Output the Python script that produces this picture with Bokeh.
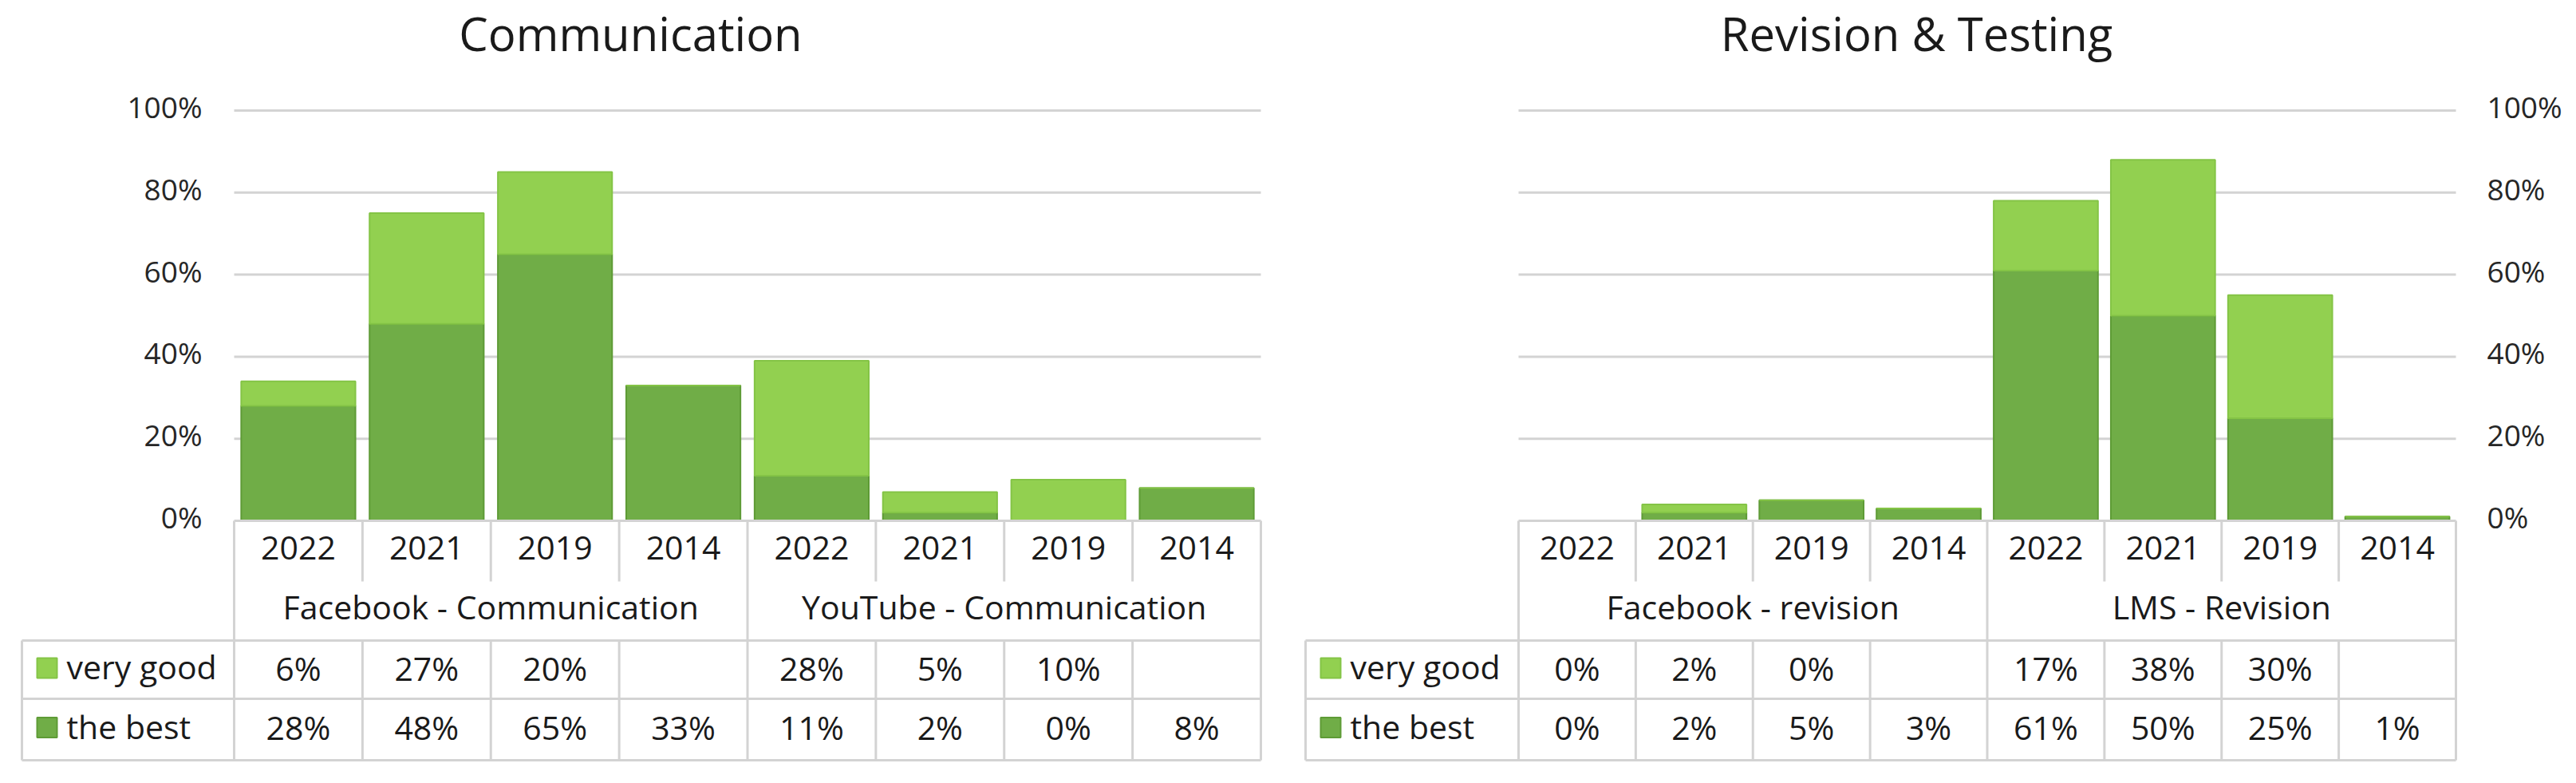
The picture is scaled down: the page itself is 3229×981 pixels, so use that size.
from bokeh.plotting import figure
from bokeh.layouts import row
from bokeh.models import Range1d, ColumnDataSource
from bokeh.core.properties import value
from bokeh.embed import file_html
from bokeh.resources import INLINE

# ---------------- data ----------------
years = ["2022", "2021", "2019", "2014"]
series_names = ["very good", "the best"]

comm_title = "Communication"
comm_groups = ["Facebook - Communication", "YouTube - Communication"]
comm_very_good = [6, 27, 20, None, 28, 5, 10, None]
comm_the_best = [28, 48, 65, 33, 11, 2, 0, 8]

rev_title = "Revision & Testing"
rev_groups = ["Facebook - revision", "LMS - Revision"]
rev_very_good = [0, 2, 0, None, 17, 38, 30, None]
rev_the_best = [0, 2, 5, 3, 61, 50, 25, 1]

y_ticks = [0, 20, 40, 60, 80, 100]

# ---------------- style ----------------
FONT = value("Open Sans")
C_BEST = "#70AD47"
C_BEST_EDGE = "#5E9B36"
C_GOOD = "#92D050"
C_GOOD_EDGE = "#84C446"
C_LINE = "#D3D3D3"
C_TEXT = "#1a1a1a"

# layout in reference pixels
Y0_PX = 652.0      # 0 %
Y100_PX = 138.0    # 100 %
PX_PER_UNIT = (Y0_PX - Y100_PX) / 100.0
FIG_TOP, FIG_BOTTOM = 0, 963
ROW_YEAR_END = 728
ROW_GOOD_TOP = 802
ROW_BEST_TOP = 875
ROW_BOTTOM = 952


def make_chart(title, groups, very_good, the_best, fig_left, fig_right,
               legend_left, col0, col_end, title_cx, axis_side):
    n = len(very_good)
    cw = (col_end - col0) / n

    def X(px):
        return (px - col0) / cw

    def Y(py):
        return (Y0_PX - py) / PX_PER_UNIT

    p = figure(width=int(fig_right - fig_left), height=int(FIG_BOTTOM - FIG_TOP),
               x_range=Range1d(X(fig_left), X(fig_right)),
               y_range=Range1d(Y(FIG_BOTTOM), Y(FIG_TOP)),
               output_backend="svg", toolbar_location=None, min_border=0)
    p.axis.visible = False
    p.grid.visible = False
    p.outline_line_color = None
    p.background_fill_color = "white"
    p.border_fill_color = "white"

    centers = [i + 0.5 for i in range(n)]
    good_bar = [v if v is not None else 0 for v in very_good]
    src = ColumnDataSource(dict(
        x=centers,
        best=the_best,
        top_good=[b + g for b, g in zip(the_best, good_bar)],
    ))

    # gridlines
    grid_vals = [t for t in y_ticks if t > 0]
    p.segment(x0=[0] * len(grid_vals), x1=[n] * len(grid_vals),
              y0=grid_vals, y1=grid_vals, line_color=C_LINE, line_width=3)

    # bars
    p.vbar(x="x", width=0.89, bottom=0, top="best", source=src,
           fill_color=C_BEST, line_color=C_BEST_EDGE, line_width=2)
    p.vbar(x="x", width=0.89, bottom="best", top="top_good", source=src,
           fill_color=C_GOOD, line_color=C_GOOD_EDGE, line_width=2)

    # tick labels
    labels = [f"{t}%" for t in y_ticks]
    if axis_side == "left":
        p.text(x=[X(col0 - 40)] * len(y_ticks), y=y_ticks, text=labels,
               text_font=FONT, text_font_size="37px", text_color="#262626",
               text_align="right", text_baseline="middle", y_offset=-5)
    else:
        p.text(x=[X(col_end + 39)] * len(y_ticks), y=y_ticks, text=labels,
               text_font=FONT, text_font_size="37px", text_color="#262626",
               text_align="left", text_baseline="middle", y_offset=-5)

    # table lines
    hx0, hx1, hy = [X(col0)], [X(col_end)], [Y(Y0_PX)]
    for yy in (ROW_GOOD_TOP, ROW_BEST_TOP, ROW_BOTTOM):
        hx0.append(X(legend_left)); hx1.append(X(col_end)); hy.append(Y(yy))
    p.segment(x0=hx0, x1=hx1, y0=hy, y1=hy, line_color=C_LINE, line_width=3)

    vx, vy0, vy1 = [], [], []
    per_group = len(years)
    for k in range(n + 1):
        if k % per_group == 0:
            vx.append(k); vy0.append(Y(Y0_PX)); vy1.append(Y(ROW_BOTTOM))
        else:
            vx.append(k); vy0.append(Y(Y0_PX)); vy1.append(Y(ROW_YEAR_END))
            vx.append(k); vy0.append(Y(ROW_GOOD_TOP)); vy1.append(Y(ROW_BOTTOM))
    vx.append(X(legend_left)); vy0.append(Y(ROW_GOOD_TOP)); vy1.append(Y(ROW_BOTTOM))
    p.segment(x0=vx, x1=vx, y0=vy0, y1=vy1, line_color=C_LINE, line_width=3)

    def txt(xs, ys, texts, size, align="center", color=C_TEXT):
        p.text(x=xs, y=ys, text=texts, text_font=FONT, text_font_size=size,
               text_color=color, text_align=align, text_baseline="middle")

    # year labels
    txt(centers, [Y(686)] * n, years * len(groups), "41px")
    # group labels
    gx = [per_group * (i + 0.5) for i in range(len(groups))]
    txt(gx, [Y(759)] * len(groups), groups, "41px")
    # value rows
    good_txt = [f"{v}%" if v is not None else "" for v in very_good]
    best_txt = [f"{v}%" if v is not None else "" for v in the_best]
    txt(centers, [Y(836)] * n, good_txt, "41px")
    txt(centers, [Y(910)] * n, best_txt, "41px")

    # legend keys
    sw_x = X(legend_left + 31.5)
    p.scatter(x=[sw_x, sw_x], y=[Y(836.5), Y(911)], marker="square", size=25,
              fill_color=[C_GOOD, C_BEST], line_color=[C_GOOD_EDGE, C_BEST_EDGE],
              line_width=2)
    txt([X(legend_left + 56)] * 2, [Y(834), Y(909)], series_names, "41px",
        align="left")

    # title
    txt([X(title_cx)], [Y(41)], [title], "58px")
    return p


p1 = make_chart(comm_title, comm_groups, comm_very_good, comm_the_best,
                fig_left=0, fig_right=1600, legend_left=27, col0=293,
                col_end=1580, title_cx=790, axis_side="left")
p2 = make_chart(rev_title, rev_groups, rev_very_good, rev_the_best,
                fig_left=1600, fig_right=3211, legend_left=1636, col0=1903,
                col_end=3078, title_cx=2402, axis_side="right")

layout = row(p1, p2)
open("out.html", "w").write(file_html(layout, INLINE))
